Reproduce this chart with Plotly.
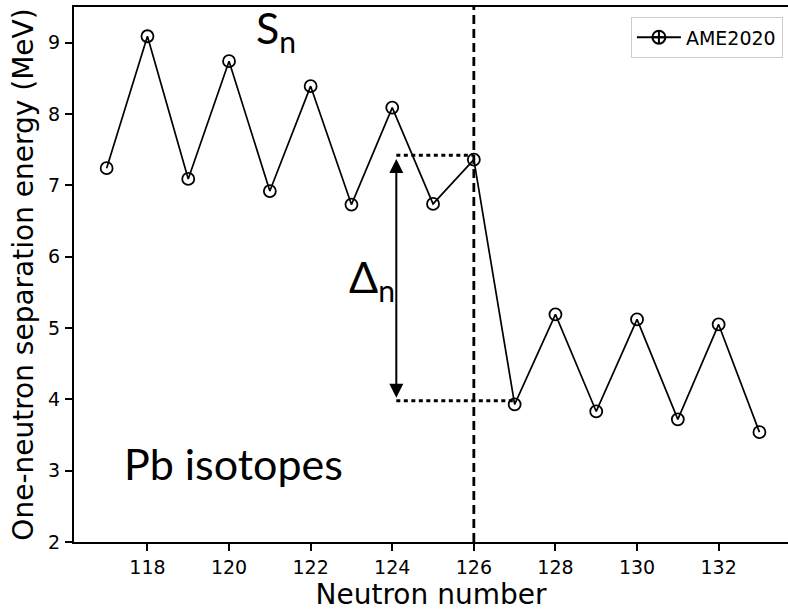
import plotly.graph_objects as go

# One-neutron separation energies of Pb isotopes (AME2020), in MeV
neutron_number = list(range(117, 134))
sn_ame2020 = [7.24, 9.09, 7.09, 8.74, 6.92, 8.39, 6.73, 8.09, 6.74,
              7.36, 3.93, 5.19, 3.83, 5.12, 3.72, 5.05, 3.54]

# Shell gap marker: magic number N=126 and the Delta_n arrow between
# Sn(126) and Sn(127)
shell_closure = 126
gap_x = 124.1
gap_top = 7.37
gap_bottom = 4.0
guide_top = 7.42
guide_bottom = 3.98
guide_top_end = 126
guide_bottom_end = 127

x_range = [116.2, 133.7]
y_range = [2, 9.5]
x_ticks = [118, 120, 122, 124, 126, 128, 130, 132]
y_ticks = [2, 3, 4, 5, 6, 7, 8, 9]

tick_font = dict(family="DejaVu Sans", size=19, color="black")
title_font = dict(family="DejaVu Sans", size=28, color="black")
label_font = dict(family="Lato", size=43, color="black")

fig = go.Figure()

fig.add_trace(go.Scatter(
    x=neutron_number, y=sn_ame2020,
    mode="lines+markers",
    line=dict(color="black", width=1.7),
    marker=dict(symbol="circle-open", size=12, color="black",
                line=dict(width=1.8, color="black")),
    showlegend=False,
))

# legend entry (line + circle with error-bar tick)
fig.add_trace(go.Scatter(
    x=[None], y=[None],
    mode="lines+markers",
    name="AME2020",
    line=dict(color="black", width=2),
    marker=dict(symbol="circle-cross-open", size=13, color="black",
                line=dict(width=2, color="black")),
))

# N = 126 shell closure
fig.add_shape(type="line", xref="x", yref="paper",
              x0=shell_closure, x1=shell_closure, y0=0, y1=1,
              line=dict(color="black", width=2.8, dash="9px,5px"))

# dotted guides for the gap
fig.add_shape(type="line", xref="x", yref="y",
              x0=gap_x, x1=guide_top_end, y0=guide_top, y1=guide_top,
              line=dict(color="black", width=3, dash="4px,3.5px"))
fig.add_shape(type="line", xref="x", yref="y",
              x0=gap_x, x1=guide_bottom_end, y0=guide_bottom, y1=guide_bottom,
              line=dict(color="black", width=3, dash="4px,3.5px"))

# double-headed arrow for Delta_n
fig.add_annotation(
    x=gap_x, y=gap_top, ax=gap_x, ay=gap_bottom,
    xref="x", yref="y", axref="x", ayref="y",
    text="", showarrow=True,
    arrowhead=2, startarrowhead=2, arrowside="end+start",
    arrowsize=1.4, startarrowsize=1.4, arrowwidth=2, arrowcolor="black",
)

fig.add_annotation(x=120.6, y=9.17, xref="x", yref="y",
                   text="S<sub>n</sub>", showarrow=False,
                   xanchor="left", yanchor="middle", font=label_font)
fig.add_annotation(x=122.88, y=5.68, xref="x", yref="y",
                   text="Δ<sub>n</sub>", showarrow=False,
                   xanchor="left", yanchor="middle", font=label_font)
fig.add_annotation(x=117.38, y=3.1, xref="x", yref="y",
                   text="Pb isotopes", showarrow=False,
                   xanchor="left", yanchor="middle", font=label_font)

fig.update_xaxes(
    range=x_range, tickvals=x_ticks, ticktext=[str(t) for t in x_ticks],
    showline=True, linecolor="black", linewidth=2, mirror=True,
    ticks="outside", ticklen=7, tickwidth=1.8, tickcolor="black",
    tickfont=tick_font, showgrid=False, zeroline=False,
    title=dict(text="Neutron number", font=title_font, standoff=8),
)
fig.update_yaxes(
    range=y_range, tickvals=y_ticks, ticktext=[str(t) for t in y_ticks],
    showline=True, linecolor="black", linewidth=2, mirror=False,
    ticks="outside", ticklen=7, tickwidth=1.8, tickcolor="black",
    tickfont=tick_font, showgrid=False, zeroline=False,
    ticklabelstandoff=1,
    title=dict(text="One-neutron separation energy (MeV)", font=title_font,
               standoff=6),
)

fig.update_layout(
    width=788, height=611,
    margin=dict(l=74, r=0, t=7, b=69, autoexpand=False),
    plot_bgcolor="white", paper_bgcolor="white",
    legend=dict(
        x=0.9926, y=0.981, xanchor="right", yanchor="top",
        bordercolor="#cccccc", borderwidth=1.2, bgcolor="white",
        font=dict(family="DejaVu Sans", size=19, color="black"),
        itemwidth=44,
    ),
)

fig.write_html("out.html")
